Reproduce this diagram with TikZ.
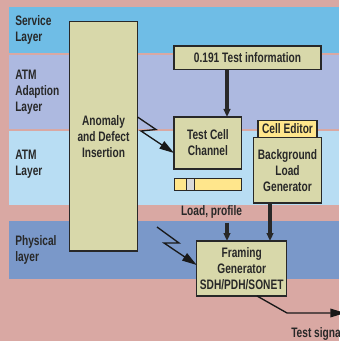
\documentclass[tikz,border=0pt]{standalone}
\usepackage{fontspec}
\setmainfont{Liberation Sans}[FakeStretch=0.74]
\usetikzlibrary{arrows.meta}

\definecolor{bgpink}{RGB}{217,168,163}
\definecolor{svcblue}{RGB}{111,189,230}
\definecolor{aalviolet}{RGB}{173,185,224}
\definecolor{atmblue}{RGB}{184,221,243}
\definecolor{phyblue}{RGB}{122,152,201}
\definecolor{boxkhaki}{RGB}{216,216,170}
\definecolor{tagyellow}{RGB}{255,230,140}
\definecolor{knobgrey}{RGB}{217,217,217}
\definecolor{inkgrey}{RGB}{40,40,40}

\tikzset{
  blk/.style={draw=inkgrey, line width=0.9pt, fill=boxkhaki, inner sep=0pt, outer sep=0pt,
    align=center, text=inkgrey, font=\fontsize{10.3}{12}\selectfont\bfseries},
  bar/.style={draw=inkgrey, line width=0.7pt, inner sep=0pt, outer sep=0pt},
  lbl/.style={inner sep=0pt, align=left, anchor=west, text=inkgrey,
    font=\fontsize{10.3}{12}\selectfont\bfseries},
  txt/.style={inner sep=0pt, text=inkgrey, font=\fontsize{10.3}{12}\selectfont\bfseries},
  feed/.style={line width=2.8pt, draw=inkgrey, -{Triangle[width=5pt,length=6pt]}},
  bolt/.style={line width=1pt, draw=black!90, -{Triangle[width=6.5pt,length=11pt]}},
}

\begin{document}
\begin{tikzpicture}[x=0.75pt,y=0.75pt,yscale=-1,xscale=1]
\useasboundingbox (0,0) rectangle (339,341);

%Shape: Rectangle (background)
\fill[bgpink] (0,0) rectangle (339,341);
%Shape: Rectangle (layer bands)
\fill[svcblue] (9,7) rectangle (339,53);
\fill[aalviolet] (9,55.5) rectangle (339,129);
\fill[atmblue] (9,131.5) rectangle (339,205.5);
\fill[phyblue] (9,221) rectangle (339,279);

% Text Node
\node[lbl] (svc) at (15,29.5) {Service\\Layer};
% Text Node
\node[lbl] (aal) at (15,92) {ATM\\Adaption\\Layer};
% Text Node
\node[lbl] (atm) at (15,164) {ATM\\Layer};
% Text Node
\node[lbl] (phy) at (15,250) {Physical\\layer};

%Shape: Rectangle
\node[blk, minimum width=51pt, minimum height=172pt] (anomaly) at (103.5,136.25) {Anomaly\\and Defect\\Insertion};
%Shape: Rectangle
\node[blk, minimum width=110.25pt, minimum height=17.6pt] (info) at (247.5,57.75) {0.191 Test information};
%Shape: Rectangle
\node[blk, minimum width=50.8pt, minimum height=39pt] (tcc) at (207.85,143) {Test Cell\\Channel};
%Shape: Rectangle (slider)
\node[bar, fill=tagyellow, minimum width=50.25pt, minimum height=9.5pt] (slider) at (208.2,184.35) {};
\node[bar, fill=knobgrey, minimum width=6.5pt, minimum height=9.5pt] (knob) at (190.35,184.35) {};
%Shape: Rectangle
\node[blk, minimum width=50.7pt, minimum height=49pt] (bgload) at (287.5,170.35) {Background\\Load\\Generator};
\node[blk, fill=tagyellow, anchor=south, minimum width=44.25pt, minimum height=12.9pt] (celled) at (bgload.north) {Cell Editor};
%Shape: Rectangle
\node[blk, minimum width=67.5pt, minimum height=41.25pt] (framing) at (241.7,268.5) {Framing\\Generator\\SDH/PDH/SONET};
% Text Node
\node[txt] (load) at (211.5,212) {Load, profile};
% Text Node
\node[txt, anchor=west] (sig) at (291,334) {Test signal};

\coordinate (col) at (227,0);
\coordinate (col2) at (270,0);
\coordinate (hit) at (157,227);
\coordinate (sink) at (345,313);

%Straight Lines
\draw[feed] (col |- info.south) -- (col |- tcc.north);
\draw[feed, shorten <=3pt] (col |- load.south) -- (col |- framing.north);
\draw[feed] (col2 |- bgload.south) -- (col2 |- framing.north);
%Straight Lines (bolts)
\draw[bolt] (anomaly.east |- 0,117) -- ++(18.5,12.5) -- ++(-15,1.5) -- (tcc.west |- 0,153);
\draw[bolt] (hit) -- ++(22,16) -- ++(-15,0) -- (framing.west |- 0,265);
%Straight Lines (output)
\draw[bolt] (framing.south -| 257,0) -- (287,313) -- (sink);
\end{tikzpicture}
\end{document}
